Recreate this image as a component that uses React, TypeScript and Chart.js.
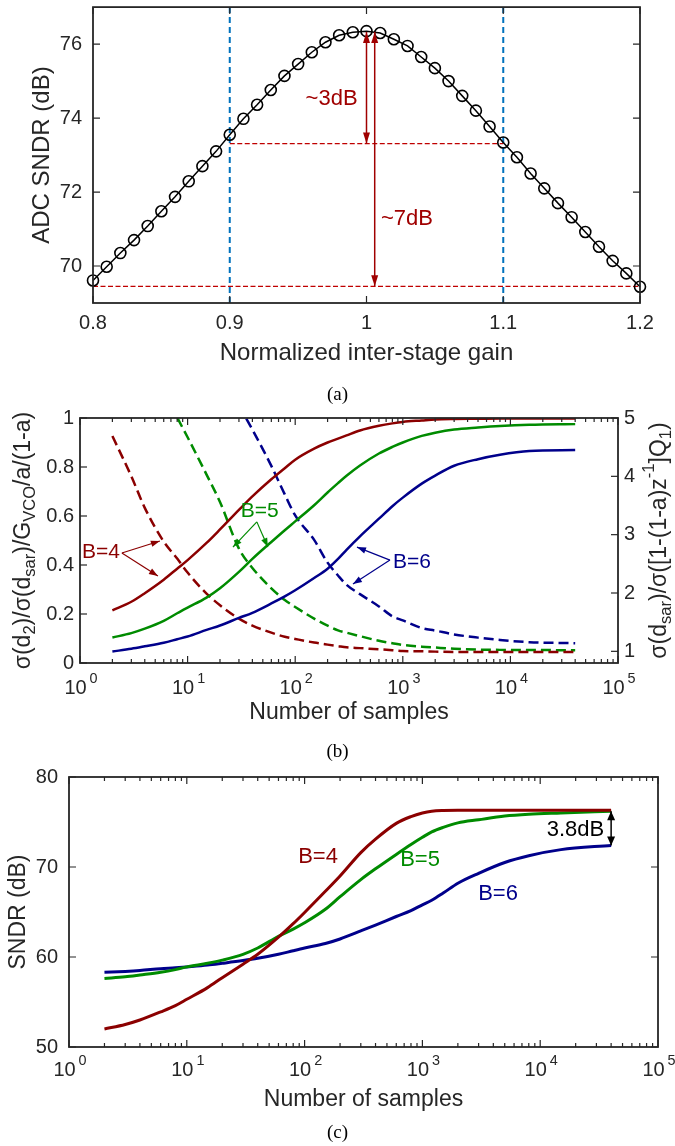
import React, { useEffect, useRef } from 'react';
import { Chart, registerables } from 'chart.js';

Chart.register(...registerables);

const PAGE_W = 675;
const PAGE_H = 1146;
const FONT = '"Liberation Sans", Arial, Helvetica, sans-serif';
const SERIF = '"Liberation Serif", "Times New Roman", serif';
const AXIS_COLOR = '#262626';
const RED = '#8B0000';
const GREEN = '#008B00';
const BLUE = '#00008B';
const ANNOT_RED = '#A00000';

// ---------------- (a) ----------------
const GAIN_A = [0.80, 0.81, 0.82, 0.83, 0.84, 0.85, 0.86, 0.87, 0.88, 0.89, 0.90, 0.91, 0.92, 0.93, 0.94, 0.95, 0.96, 0.97, 0.98, 0.99, 1.00, 1.01, 1.02, 1.03, 1.04, 1.05, 1.06, 1.07, 1.08, 1.09, 1.10, 1.11, 1.12, 1.13, 1.14, 1.15, 1.16, 1.17, 1.18, 1.19, 1.20];
const SNDR_A = [69.61, 69.98, 70.35, 70.70, 71.08, 71.48, 71.87, 72.29, 72.70, 73.10, 73.55, 73.98, 74.36, 74.76, 75.14, 75.46, 75.78, 76.05, 76.24, 76.32, 76.35, 76.30, 76.13, 75.95, 75.65, 75.35, 75.00, 74.60, 74.20, 73.77, 73.34, 72.94, 72.50, 72.10, 71.70, 71.32, 70.92, 70.52, 70.14, 69.80, 69.44];
const EDGE_GAINS_A = [0.9, 1.1];
const LEVEL_PEAK_A = 76.33;
const LEVEL_3DB_A = 73.31;
const LEVEL_7DB_A = 69.45;
const ARROW_GAINS_A = [1.0, 1.006];
const X_RANGE_A = [0.8, 1.2];
const Y_RANGE_A = [69, 77];
const X_TICKS_A = [0.8, 0.9, 1.0, 1.1, 1.2];
const X_LABELS_A = ['0.8', '0.9', '1', '1.1', '1.2'];
const Y_TICKS_A = [70, 72, 74, 76];
const Y_LABELS_A = ['70', '72', '74', '76'];
const NOTE_3DB_A = { text: '~3dB', x: 0.9935, y: 74.52 };
const NOTE_7DB_A = { text: '~7dB', x: 1.0106, y: 71.28 };

// ---------------- (b) ----------------
const N_B = [2, 3, 4, 6, 8, 10, 15, 20, 30, 40, 60, 80, 100, 150, 200, 250, 300, 400, 600, 800, 1000, 1500, 2000, 3000, 5000, 8000, 15000, 40000];
const RED_SOLID_B = [0.215, 0.25, 0.285, 0.34, 0.385, 0.42, 0.49, 0.545, 0.625, 0.68, 0.75, 0.795, 0.83, 0.875, 0.9, 0.916, 0.929, 0.949, 0.968, 0.978, 0.984, 0.99, 0.994, 0.996, 0.997, 0.998, 0.998, 0.998];
const GREEN_SOLID_B = [0.104, 0.122, 0.14, 0.172, 0.203, 0.226, 0.267, 0.305, 0.372, 0.425, 0.494, 0.542, 0.578, 0.644, 0.696, 0.734, 0.764, 0.806, 0.855, 0.882, 0.9, 0.927, 0.94, 0.953, 0.961, 0.967, 0.972, 0.975];
const BLUE_SOLID_B = [0.047, 0.058, 0.068, 0.083, 0.097, 0.108, 0.135, 0.153, 0.184, 0.205, 0.243, 0.272, 0.297, 0.347, 0.385, 0.425, 0.462, 0.517, 0.589, 0.64, 0.675, 0.732, 0.765, 0.805, 0.832, 0.85, 0.865, 0.869];
const RED_DASH_B = [4.69, 4.0, 3.46, 2.88, 2.59, 2.35, 1.99, 1.79, 1.56, 1.44, 1.32, 1.25, 1.213, 1.15, 1.115, 1.09, 1.07, 1.055, 1.035, 1.02, 1.005, 1.0, 0.995, 0.99, 0.99, 0.99, 0.99, 0.99];
const GREEN_DASH_B = [null, null, null, 5.46, 5.01, 4.67, 4.03, 3.56, 2.76, 2.43, 2.08, 1.88, 1.76, 1.56, 1.44, 1.36, 1.32, 1.26, 1.18, 1.14, 1.11, 1.08, 1.065, 1.045, 1.03, 1.025, 1.022, 1.02];
const BLUE_DASH_B = [null, null, null, null, null, null, null, null, 5.21, 4.8, 4.18, 3.69, 3.33, 2.91, 2.52, 2.3, 2.14, 1.98, 1.77, 1.6, 1.53, 1.4, 1.356, 1.29, 1.235, 1.195, 1.157, 1.14];
const Y_RANGE_B = [0, 1];
const Y2_RANGE_B = [0.8, 5];
const Y_TICKS_B = [0, 0.2, 0.4, 0.6, 0.8, 1];
const Y_LABELS_B = ['0', '0.2', '0.4', '0.6', '0.8', '1'];
const Y2_TICKS_B = [1, 2, 3, 4, 5];
const Y2_LABELS_B = ['1', '2', '3', '4', '5'];
const NOTES_B = [
  { text: 'B=4', color: RED, x: 2.35, y: 0.451, align: 'right', from: [2.45, 0.449], to: [[5.53, 0.498], [5.3, 0.355]] },
  { text: 'B=5', color: GREEN, x: 46.9, y: 0.62, align: 'center', from: [44, 0.576], to: [[26.4, 0.473], [55.7, 0.473]] },
  { text: 'B=6', color: BLUE, x: 1218, y: 0.412, align: 'center', from: [760, 0.42], to: [[375, 0.473], [344, 0.322]] },
];

// ---------------- (c) ----------------
const N_C = [2, 3, 4, 6, 8, 10, 15, 20, 30, 40, 60, 80, 100, 150, 200, 300, 400, 600, 800, 1000, 1200, 1500, 2000, 3000, 5000, 8000, 15000, 40000];
const SNDR_B4_C = [52.0, 52.5, 53.0, 53.9, 54.6, 55.3, 56.6, 57.7, 59.2, 60.3, 62.2, 63.7, 64.95, 67.3, 69.0, 71.6, 73.1, 74.85, 75.6, 76.0, 76.2, 76.28, 76.3, 76.3, 76.3, 76.3, 76.3, 76.3];
const SNDR_B5_C = [57.6, 57.8, 58.0, 58.3, 58.6, 58.9, 59.3, 59.65, 60.3, 61.0, 62.3, 63.1, 63.8, 65.3, 66.7, 68.6, 69.8, 71.4, 72.5, 73.3, 73.9, 74.4, 74.9, 75.25, 75.66, 75.86, 76.0, 76.2];
const SNDR_B6_C = [58.3, 58.4, 58.5, 58.7, 58.8, 58.9, 59.1, 59.3, 59.6, 59.85, 60.3, 60.7, 61.0, 61.5, 62.0, 62.9, 63.55, 64.5, 65.15, 65.8, 66.3, 67.1, 68.2, 69.3, 70.5, 71.25, 71.93, 72.4];
const Y_RANGE_C = [50, 80];
const Y_TICKS_C = [50, 60, 70, 80];
const Y_LABELS_C = ['50', '60', '70', '80'];
const NOTES_C = [
  { text: 'B=4', color: RED, x: 130, y: 71.1 },
  { text: 'B=5', color: GREEN, x: 955, y: 70.8 },
  { text: 'B=6', color: BLUE, x: 4385, y: 67.05 },
  { text: '3.8dB', color: '#000000', x: 19900, y: 74.17 },
];
const GAP_ARROW_C = { x: 40000, top: 76.2, bottom: 72.4 };

// shared log axis
const LOG_RANGE = [1, 100000];
const LOG_TICKS = [1, 10, 100, 1000, 10000, 100000];
const LOG_EXPONENTS = ['0', '1', '2', '3', '4', '5'];

// ---------------- layout ----------------
type Area = { left: number; top: number; right: number; bottom: number };
const AREA_A: Area = { left: 93, top: 5, right: 640, bottom: 303 };
const AREA_B: Area = { left: 80, top: 418, right: 618, bottom: 663 };
const AREA_C: Area = { left: 69, top: 777, right: 658, bottom: 1047 };

type Seg = { t: string; s?: 'sub' | 'sup'; dx?: number };

function segFont(sg: Seg, size: number, family: string) {
  return `${sg.s ? size * 0.72 : size}px ${family}`;
}

function drawRich(ctx: CanvasRenderingContext2D, segs: Seg[], x: number, y: number, size: number, color: string, align: string = 'center', rot = 0, family = FONT) {
  ctx.save();
  ctx.translate(x, y);
  if (rot) ctx.rotate(rot);
  ctx.fillStyle = color;
  ctx.textBaseline = 'middle';
  ctx.textAlign = 'left';
  const widths = segs.map((sg) => {
    ctx.font = segFont(sg, size, family);
    return ctx.measureText(sg.t).width + (sg.dx || 0);
  });
  const total = widths.reduce((p, c) => p + c, 0);
  let cx = align === 'center' ? -total / 2 : align === 'right' ? -total : 0;
  segs.forEach((sg, i) => {
    ctx.font = segFont(sg, size, family);
    const dy = sg.s === 'sub' ? size * 0.3 : sg.s === 'sup' ? -size * 0.45 : 0;
    ctx.fillText(sg.t, cx + (sg.dx || 0), dy);
    cx += widths[i];
  });
  ctx.restore();
}

function arrowHead(ctx: CanvasRenderingContext2D, x1: number, y1: number, x2: number, y2: number, len: number, half: number) {
  const a = Math.atan2(y2 - y1, x2 - x1);
  const c = Math.cos(a), s = Math.sin(a);
  ctx.beginPath();
  ctx.moveTo(x2, y2);
  ctx.lineTo(x2 - len * c + half * s, y2 - len * s - half * c);
  ctx.lineTo(x2 - len * c - half * s, y2 - len * s + half * c);
  ctx.closePath();
  ctx.fill();
}

function drawArrow(ctx: CanvasRenderingContext2D, x1: number, y1: number, x2: number, y2: number, color: string, width: number, len: number, half: number, both: boolean) {
  ctx.save();
  ctx.strokeStyle = color;
  ctx.fillStyle = color;
  ctx.lineWidth = width;
  ctx.setLineDash([]);
  ctx.beginPath();
  ctx.moveTo(x1, y1);
  ctx.lineTo(x2, y2);
  ctx.stroke();
  arrowHead(ctx, x1, y1, x2, y2, len, half);
  if (both) arrowHead(ctx, x2, y2, x1, y1, len, half);
  ctx.restore();
}

function drawBox(ctx: CanvasRenderingContext2D, a: Area) {
  ctx.save();
  ctx.strokeStyle = AXIS_COLOR;
  ctx.lineWidth = 1.8;
  ctx.setLineDash([]);
  ctx.strokeRect(a.left, a.top, a.right - a.left, a.bottom - a.top);
  ctx.restore();
}

function xTick(ctx: CanvasRenderingContext2D, px: number, a: Area, len: number) {
  ctx.beginPath();
  ctx.moveTo(px, a.bottom);
  ctx.lineTo(px, a.bottom - len);
  ctx.moveTo(px, a.top);
  ctx.lineTo(px, a.top + len);
  ctx.stroke();
}

function yTick(ctx: CanvasRenderingContext2D, py: number, a: Area, len: number, left: boolean, right: boolean) {
  ctx.beginPath();
  if (left) {
    ctx.moveTo(a.left, py);
    ctx.lineTo(a.left + len, py);
  }
  if (right) {
    ctx.moveTo(a.right, py);
    ctx.lineTo(a.right - len, py);
  }
  ctx.stroke();
}

function logMinorTicks(): number[] {
  const out: number[] = [];
  for (let e = 0; e < 5; e++) {
    for (let m = 2; m <= 9; m++) out.push(m * Math.pow(10, e));
  }
  return out;
}

function drawLogXAxis(ctx: CanvasRenderingContext2D, xs: any, a: Area, labelY: number) {
  ctx.save();
  ctx.strokeStyle = AXIS_COLOR;
  ctx.lineWidth = 1.2;
  LOG_TICKS.forEach((v) => xTick(ctx, xs.getPixelForValue(v), a, 7));
  logMinorTicks().forEach((v) => xTick(ctx, xs.getPixelForValue(v), a, 4));
  ctx.restore();
  LOG_TICKS.forEach((v, i) => {
    drawRich(ctx, [{ t: '10' }, { t: LOG_EXPONENTS[i], s: 'sup', dx: 3 }], xs.getPixelForValue(v) + 1, labelY, 20, AXIS_COLOR, 'center');
  });
}

function pts(xs: number[], ys: (number | null)[]) {
  const out: { x: number; y: number }[] = [];
  xs.forEach((x, i) => {
    const y = ys[i];
    if (y !== null && y !== undefined) out.push({ x, y });
  });
  return out;
}

function padding(a: Area) {
  return { left: a.left, top: a.top, right: PAGE_W - a.right, bottom: PAGE_H - a.bottom };
}

function baseOptions(a: Area, scales: any) {
  return {
    responsive: false,
    maintainAspectRatio: false,
    animation: false,
    devicePixelRatio: 1,
    events: [],
    layout: { padding: padding(a) },
    plugins: { legend: { display: false }, tooltip: { enabled: false }, title: { display: false } },
    scales,
  };
}

// ---------------- chart (a) ----------------
function configA(): any {
  const datasets: any[] = [
    {
      data: pts(GAIN_A, SNDR_A),
      borderColor: '#000000',
      borderWidth: 1.5,
      pointRadius: 5.5,
      pointBorderWidth: 1.6,
      pointBorderColor: '#000000',
      pointBackgroundColor: 'rgba(0,0,0,0)',
      pointStyle: 'circle',
      clip: false,
    },
  ];
  EDGE_GAINS_A.forEach((g) => {
    datasets.push({
      data: [{ x: g, y: Y_RANGE_A[0] }, { x: g, y: Y_RANGE_A[1] }],
      borderColor: '#0072BD',
      borderWidth: 2,
      borderDash: [6, 4],
      pointRadius: 0,
    });
  });
  datasets.push({
    data: [{ x: EDGE_GAINS_A[0], y: LEVEL_3DB_A }, { x: EDGE_GAINS_A[1], y: LEVEL_3DB_A }],
    borderColor: '#C00000', borderWidth: 1.3, borderDash: [5, 2.5], pointRadius: 0,
  });
  datasets.push({
    data: [{ x: X_RANGE_A[0], y: LEVEL_7DB_A }, { x: X_RANGE_A[1], y: LEVEL_7DB_A }],
    borderColor: '#C00000', borderWidth: 1.3, borderDash: [5, 2.5], pointRadius: 0,
  });
  const plugin = {
    id: 'figA',
    afterDraw(chart: any) {
      const ctx = chart.ctx as CanvasRenderingContext2D;
      const a = chart.chartArea as Area;
      const xs = chart.scales.x;
      const ys = chart.scales.y;
      const yPeak = ys.getPixelForValue(LEVEL_PEAK_A);
      const x1 = xs.getPixelForValue(ARROW_GAINS_A[0]);
      const x2 = xs.getPixelForValue(ARROW_GAINS_A[1]);
      drawArrow(ctx, x1, yPeak, x1, ys.getPixelForValue(LEVEL_3DB_A), ANNOT_RED, 1.5, 11, 3.5, true);
      drawArrow(ctx, x2, yPeak, x2, ys.getPixelForValue(LEVEL_7DB_A), ANNOT_RED, 1.5, 11, 3.5, true);
      drawRich(ctx, [{ t: NOTE_3DB_A.text }], xs.getPixelForValue(NOTE_3DB_A.x), ys.getPixelForValue(NOTE_3DB_A.y), 22, ANNOT_RED, 'right');
      drawRich(ctx, [{ t: NOTE_7DB_A.text }], xs.getPixelForValue(NOTE_7DB_A.x), ys.getPixelForValue(NOTE_7DB_A.y), 22, ANNOT_RED, 'left');

      drawBox(ctx, a);
      ctx.save();
      ctx.strokeStyle = AXIS_COLOR;
      ctx.lineWidth = 1.2;
      X_TICKS_A.forEach((v) => xTick(ctx, xs.getPixelForValue(v), a, 7));
      Y_TICKS_A.forEach((v) => yTick(ctx, ys.getPixelForValue(v), a, 7, true, true));
      ctx.restore();
      X_TICKS_A.forEach((v, i) => drawRich(ctx, [{ t: X_LABELS_A[i] }], xs.getPixelForValue(v), a.bottom + 20, 20, AXIS_COLOR, 'center'));
      Y_TICKS_A.forEach((v, i) => drawRich(ctx, [{ t: Y_LABELS_A[i] }], a.left - 11, ys.getPixelForValue(v), 20, AXIS_COLOR, 'right'));
      drawRich(ctx, [{ t: 'Normalized inter-stage gain' }], (a.left + a.right) / 2, a.bottom + 50, 24, AXIS_COLOR, 'center');
      drawRich(ctx, [{ t: 'ADC SNDR (dB)' }], 42, (a.top + a.bottom) / 2, 24, AXIS_COLOR, 'center', -Math.PI / 2);
      drawRich(ctx, [{ t: '(a)' }], PAGE_W / 2, 395, 19, '#000000', 'center', 0, SERIF);
    },
  };
  return {
    type: 'line',
    data: { datasets },
    options: baseOptions(AREA_A, {
      x: { type: 'linear', min: X_RANGE_A[0], max: X_RANGE_A[1], display: false },
      y: { type: 'linear', min: Y_RANGE_A[0], max: Y_RANGE_A[1], display: false },
    }),
    plugins: [plugin],
  };
}

// ---------------- chart (b) ----------------
function seriesB(ys: (number | null)[], color: string, dashed: boolean) {
  return {
    data: pts(N_B, ys),
    borderColor: color,
    borderWidth: 2.5,
    borderDash: dashed ? [10, 5] : [],
    pointRadius: 0,
    yAxisID: dashed ? 'y2' : 'y',
    cubicInterpolationMode: 'monotone',
  };
}

function configB(): any {
  const datasets = [
    seriesB(RED_SOLID_B, RED, false),
    seriesB(GREEN_SOLID_B, GREEN, false),
    seriesB(BLUE_SOLID_B, BLUE, false),
    seriesB(RED_DASH_B, RED, true),
    seriesB(GREEN_DASH_B, GREEN, true),
    seriesB(BLUE_DASH_B, BLUE, true),
  ];
  const plugin = {
    id: 'figB',
    afterDraw(chart: any) {
      const ctx = chart.ctx as CanvasRenderingContext2D;
      const a = chart.chartArea as Area;
      const xs = chart.scales.x;
      const ys = chart.scales.y;
      const y2 = chart.scales.y2;
      NOTES_B.forEach((n) => {
        const fx = xs.getPixelForValue(n.from[0]);
        const fy = ys.getPixelForValue(n.from[1]);
        n.to.forEach((t) => drawArrow(ctx, fx, fy, xs.getPixelForValue(t[0]), ys.getPixelForValue(t[1]), n.color, 1.2, 9, 3.2, false));
        drawRich(ctx, [{ t: n.text }], xs.getPixelForValue(n.x), ys.getPixelForValue(n.y), 21, n.color, n.align);
      });
      drawBox(ctx, a);
      ctx.save();
      ctx.strokeStyle = AXIS_COLOR;
      ctx.lineWidth = 1.2;
      Y_TICKS_B.forEach((v) => yTick(ctx, ys.getPixelForValue(v), a, 7, true, false));
      Y2_TICKS_B.forEach((v) => yTick(ctx, y2.getPixelForValue(v), a, 7, false, true));
      ctx.restore();
      drawLogXAxis(ctx, xs, a, a.bottom + 25);
      Y_TICKS_B.forEach((v, i) => drawRich(ctx, [{ t: Y_LABELS_B[i] }], a.left - 6, ys.getPixelForValue(v), 20, AXIS_COLOR, 'right'));
      Y2_TICKS_B.forEach((v, i) => drawRich(ctx, [{ t: Y2_LABELS_B[i] }], a.right + 6, y2.getPixelForValue(v), 20, AXIS_COLOR, 'left'));
      drawRich(ctx, [{ t: 'Number of samples' }], (a.left + a.right) / 2, a.bottom + 50, 23, AXIS_COLOR, 'center');
      const midY = (a.top + a.bottom) / 2;
      drawRich(ctx, [{ t: 'σ(d' }, { t: '2', s: 'sub' }, { t: ')/σ(d' }, { t: 'sar', s: 'sub' }, { t: ')/G' }, { t: 'VCO', s: 'sub' }, { t: '/a/(1-a)' }], 24, midY, 23, AXIS_COLOR, 'center', -Math.PI / 2);
      drawRich(ctx, [{ t: 'σ(d' }, { t: 'sar', s: 'sub' }, { t: ')/σ([1-(1-a)z' }, { t: '-1', s: 'sup' }, { t: ']Q' }, { t: '1', s: 'sub' }, { t: ')' }], 660, midY, 23, AXIS_COLOR, 'center', -Math.PI / 2);
      drawRich(ctx, [{ t: '(b)' }], PAGE_W / 2, 752, 19, '#000000', 'center', 0, SERIF);
    },
  };
  return {
    type: 'line',
    data: { datasets },
    options: baseOptions(AREA_B, {
      x: { type: 'logarithmic', min: LOG_RANGE[0], max: LOG_RANGE[1], display: false },
      y: { type: 'linear', position: 'left', min: Y_RANGE_B[0], max: Y_RANGE_B[1], display: false },
      y2: { type: 'linear', position: 'right', min: Y2_RANGE_B[0], max: Y2_RANGE_B[1], display: false },
    }),
    plugins: [plugin],
  };
}

// ---------------- chart (c) ----------------
function seriesC(ys: number[], color: string) {
  return {
    data: pts(N_C, ys),
    borderColor: color,
    borderWidth: 3,
    pointRadius: 0,
    cubicInterpolationMode: 'monotone',
  };
}

function configC(): any {
  const datasets = [seriesC(SNDR_B4_C, RED), seriesC(SNDR_B5_C, GREEN), seriesC(SNDR_B6_C, BLUE)];
  const plugin = {
    id: 'figC',
    afterDraw(chart: any) {
      const ctx = chart.ctx as CanvasRenderingContext2D;
      const a = chart.chartArea as Area;
      const xs = chart.scales.x;
      const ys = chart.scales.y;
      NOTES_C.forEach((n) => drawRich(ctx, [{ t: n.text }], xs.getPixelForValue(n.x), ys.getPixelForValue(n.y), 22, n.color, 'center'));
      const ax = xs.getPixelForValue(GAP_ARROW_C.x);
      drawArrow(ctx, ax, ys.getPixelForValue(GAP_ARROW_C.top), ax, ys.getPixelForValue(GAP_ARROW_C.bottom), '#000000', 1.5, 9, 4, true);
      drawBox(ctx, a);
      ctx.save();
      ctx.strokeStyle = AXIS_COLOR;
      ctx.lineWidth = 1.2;
      Y_TICKS_C.forEach((v) => yTick(ctx, ys.getPixelForValue(v), a, 7, true, true));
      ctx.restore();
      drawLogXAxis(ctx, xs, a, a.bottom + 23);
      Y_TICKS_C.forEach((v, i) => drawRich(ctx, [{ t: Y_LABELS_C[i] }], a.left - 11, ys.getPixelForValue(v), 20, AXIS_COLOR, 'right'));
      drawRich(ctx, [{ t: 'Number of samples' }], (a.left + a.right) / 2, a.bottom + 53, 23, AXIS_COLOR, 'center');
      drawRich(ctx, [{ t: 'SNDR (dB)' }], 19, (a.top + a.bottom) / 2, 23, AXIS_COLOR, 'center', -Math.PI / 2);
      drawRich(ctx, [{ t: '(c)' }], PAGE_W / 2, 1133, 19, '#000000', 'center', 0, SERIF);
    },
  };
  return {
    type: 'line',
    data: { datasets },
    options: baseOptions(AREA_C, {
      x: { type: 'logarithmic', min: LOG_RANGE[0], max: LOG_RANGE[1], display: false },
      y: { type: 'linear', min: Y_RANGE_C[0], max: Y_RANGE_C[1], display: false },
    }),
    plugins: [plugin],
  };
}

export default function App() {
  const refA = useRef<HTMLCanvasElement>(null);
  const refB = useRef<HTMLCanvasElement>(null);
  const refC = useRef<HTMLCanvasElement>(null);
  useEffect(() => {
    const charts = [
      new Chart(refA.current as HTMLCanvasElement, configA()),
      new Chart(refB.current as HTMLCanvasElement, configB()),
      new Chart(refC.current as HTMLCanvasElement, configC()),
    ];
    return () => charts.forEach((c) => c.destroy());
  }, []);
  const cs: React.CSSProperties = { position: 'absolute', left: 0, top: 0, width: PAGE_W, height: PAGE_H };
  return (
    <div style={{ position: 'absolute', left: 0, top: 0, width: PAGE_W, height: PAGE_H, background: '#ffffff', overflow: 'hidden' }}>
      <canvas ref={refA} width={PAGE_W} height={PAGE_H} style={cs} />
      <canvas ref={refB} width={PAGE_W} height={PAGE_H} style={cs} />
      <canvas ref={refC} width={PAGE_W} height={PAGE_H} style={cs} />
    </div>
  );
}
